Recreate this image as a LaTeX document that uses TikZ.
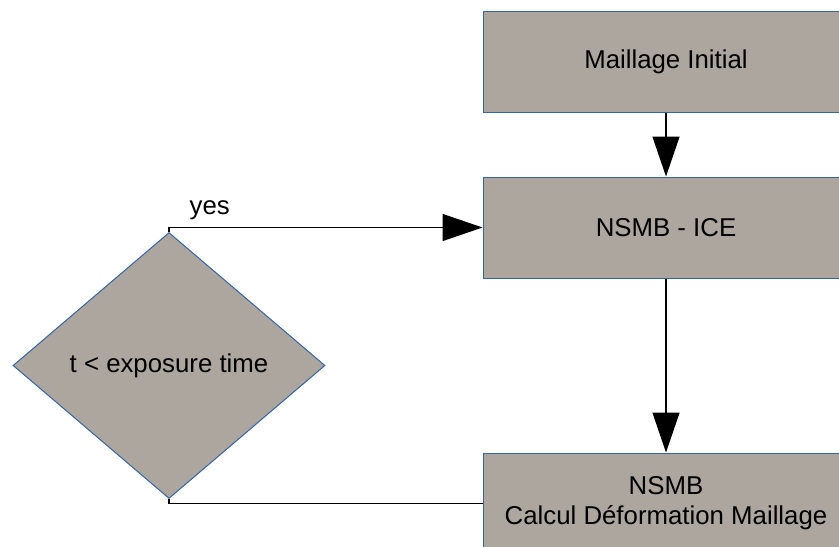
\documentclass[tikz,border=0pt]{standalone}
\usepackage{fontspec}
\setmainfont{Liberation Sans}
\usetikzlibrary{arrows.meta,positioning,calc,shapes.geometric}
\definecolor{boxfill}{HTML}{ADA69F}
\definecolor{boxline}{HTML}{3465A4}
\begin{document}
\begin{tikzpicture}[
  node distance=32pt,
  box/.style = {draw=boxline, fill=boxfill, line width=0.5pt,
    font=\fontsize{12.9}{15}\selectfont, align=center,
    minimum height=50.5pt, minimum width=183pt},
  dec/.style = {diamond, draw=boxline, fill=boxfill, line width=0.5pt,
    font=\fontsize{12.9}{15}\selectfont, inner sep=0pt,
    minimum width=156pt, minimum height=133pt},
  arr/.style = {-{Triangle[length=20pt, width=13.5pt]}, line width=0.7pt},
]
\useasboundingbox (0,0) rectangle (419.5pt,-273pt);
\clip (0,0) rectangle (419.5pt,-273pt);
\node[box] (init) at (333pt,-30.75pt) {Maillage Initial};
\node[box, below=of init] (ice) {NSMB - ICE};
\node[box, below=87pt of ice] (calc) {NSMB\\Calcul Déformation Maillage};
\node[dec, left=78.5pt of $(ice.west)!0.5!(calc.west)$] (test) {t < exposure time};
\draw[arr] (init) -- (ice);
\draw[arr] (ice) -- (calc);
\draw[arr] (test.north) |- (ice.west)
  node[pos=0.5, above right, xshift=8pt, yshift=1.5pt, inner sep=2pt,
    font=\fontsize{12.9}{15}\selectfont] {yes};
\draw[line width=0.7pt] (calc.west) -| (test.south);
\end{tikzpicture}
\end{document}
